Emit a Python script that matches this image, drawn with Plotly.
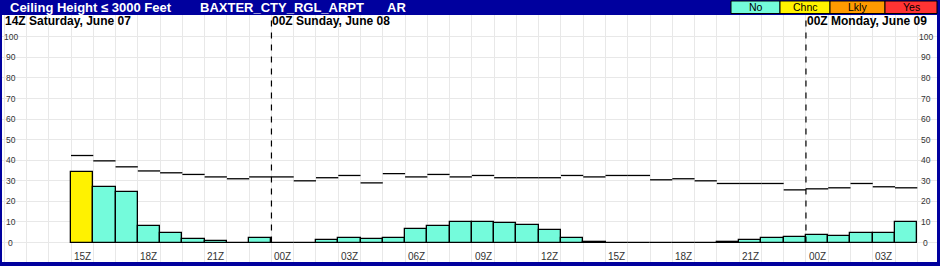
import plotly.graph_objects as go

# ---------------- data ----------------
title_main = "Ceiling Height \u2264 3000 Feet"
station = "BAXTER_CTY_RGL_ARPT"
state = "AR"

n_cols = 41                      # hourly columns shown (12Z Sat .. 04Z Mon)
first_data_col = 3               # 15Z Saturday
prob_values = [34.4, 27.1, 24.4, 8.2, 4.8, 1.6, 0.6, 0.0, 2.1, 0.0,
               0.0, 1.1, 2.1, 1.5, 2.1, 6.5, 8.2, 10.2, 10.2, 9.7,
               8.7, 6.3, 2.4, 0.5, 0.0, 0.0, 0.0, 0.0, 0.0, 0.5,
               1.1, 2.1, 2.9, 3.9, 3.4, 4.4, 4.8, 10.2]
clim_values = [42.3, 39.7, 36.8, 34.8, 33.9, 33.1, 31.9, 31.0, 31.9, 31.9,
               30.0, 31.5, 32.6, 29.0, 33.5, 31.9, 33.1, 31.9, 32.6, 31.5,
               31.5, 31.5, 32.6, 31.9, 32.6, 32.6, 30.5, 31.0, 30.0, 28.7,
               28.7, 28.7, 25.6, 26.1, 26.6, 28.7, 27.1, 26.6]
tick_cols = [3, 6, 9, 12, 15, 18, 21, 24, 27, 30, 33, 36, 39]
tick_labels = ["15Z", "18Z", "21Z", "00Z", "03Z", "06Z", "09Z", "12Z",
               "15Z", "18Z", "21Z", "00Z", "03Z"]
day_cols = [0, 12, 36]
day_labels = ["14Z Saturday, June 07", "00Z Sunday, June 08", "00Z Monday, June 09"]
y_ticks = [0, 10, 20, 30, 40, 50, 60, 70, 80, 90, 100]

cat_names = ["No", "Chnc", "Lkly", "Yes"]
cat_colors = ["#74FBDB", "#FFF200", "#FF9A00", "#FF3333"]
cat_thresholds = [0, 30, 60, 80]

# ---------------- geometry ----------------
W, H = 940, 266
ML, MR, MT, MB = 2, 3, 15, 4
NAVY = "#00009E"
FONT = "Arial, Liberation Sans, sans-serif"


def px_x(p):
    return (p - ML) / (W - ML - MR)


def px_y(p):
    return (H - MB - p) / (H - MT - MB)


def cat_color(v):
    c = cat_colors[0]
    for t, col in zip(cat_thresholds, cat_colors):
        if v >= t:
            c = col
    return c


xs = list(range(first_data_col, first_data_col + len(prob_values)))
bar_colors = [cat_color(v) for v in prob_values]

fig = go.Figure()

fig.add_trace(go.Bar(
    x=xs, y=prob_values, width=1.0,
    marker=dict(color=bar_colors, line=dict(color="black", width=1.3)),
    hoverinfo="skip",
))

seg_x, seg_y = [], []
for x, v in zip(xs, clim_values):
    seg_x += [x - 0.5, x + 0.5, None]
    seg_y += [v, v, None]
fig.add_trace(go.Scatter(x=seg_x, y=seg_y, mode="lines",
                         line=dict(color="black", width=1.3), hoverinfo="skip"))

y_lo, y_hi = -9.46, 110.6
for dc in day_cols[1:]:
    fig.add_trace(go.Scatter(x=[dc - 0.5, dc - 0.5], y=[0, y_hi], mode="lines",
                             line=dict(color="black", width=1.2, dash="6px,6px"),
                             hoverinfo="skip"))

x_lo = -0.5 - (4.2 - ML) / 22.27
x_hi = 40.5 + (W - MR - 917.3) / 22.27

fig.update_xaxes(range=[x_lo, x_hi], tickmode="linear", tick0=-0.5, dtick=1,
                 showticklabels=False, ticks="", showgrid=True,
                 gridcolor="#E8E8E8", gridwidth=1, zeroline=False, showline=False)
fig.update_yaxes(range=[y_lo, y_hi], tickmode="array", tickvals=y_ticks,
                 showticklabels=False, ticks="", showgrid=True,
                 gridcolor="#E8E8E8", gridwidth=1, zeroline=False, showline=False)

ann = []
# title bar texts
for txt, left in [(title_main, 10), (station, 200), (state, 387)]:
    ann.append(dict(text="<b>%s</b>" % txt, xref="paper", yref="paper",
                    x=px_x(left - 2), y=px_y(7.5), xanchor="left", yanchor="middle",
                    showarrow=False, font=dict(family=FONT, size=13, color="white")))
# legend boxes
box_edges = [731, 780, 830, 885, 937]
shapes = []
for i, (name, col) in enumerate(zip(cat_names, cat_colors)):
    x0, x1 = box_edges[i], box_edges[i + 1]
    shapes.append(dict(type="rect", xref="paper", yref="paper",
                       x0=px_x(x0), x1=px_x(x1), y0=px_y(13.5), y1=px_y(1),
                       fillcolor=col, line=dict(color="black", width=1)))
    ann.append(dict(text=name, xref="paper", yref="paper",
                    x=px_x((x0 + x1) / 2), y=px_y(7.5), xanchor="center", yanchor="middle",
                    showarrow=False, font=dict(family=FONT, size=10.5, color="black")))
# day headers
for dc, lab in zip(day_cols, day_labels):
    ann.append(dict(text="<b>%s</b>" % lab, xref="x", yref="paper",
                    x=dc - 0.5, y=px_y(21.5), xanchor="left", yanchor="middle",
                    xshift=-1, showarrow=False,
                    font=dict(family=FONT, size=12, color="black")))
# x tick labels
for c, lab in zip(tick_cols, tick_labels):
    ann.append(dict(text=lab, xref="x", yref="paper", x=c, y=px_y(256),
                    xanchor="center", yanchor="middle", showarrow=False,
                    font=dict(family=FONT, size=10, color="#333333")))
# y tick labels both sides
for v in y_ticks:
    for cx in (10.5, 925.5):
        ann.append(dict(text=str(v), xref="paper", yref="y", x=px_x(cx), y=v,
                        xanchor="center", yanchor="middle", showarrow=False,
                        font=dict(family=FONT, size=8.5, color="#333333")))

fig.update_layout(width=W, height=H,
                  margin=dict(l=ML, r=MR, t=MT, b=MB, pad=0),
                  paper_bgcolor=NAVY, plot_bgcolor="white",
                  showlegend=False, bargap=0,
                  annotations=ann, shapes=shapes)

fig.write_html("out.html")
